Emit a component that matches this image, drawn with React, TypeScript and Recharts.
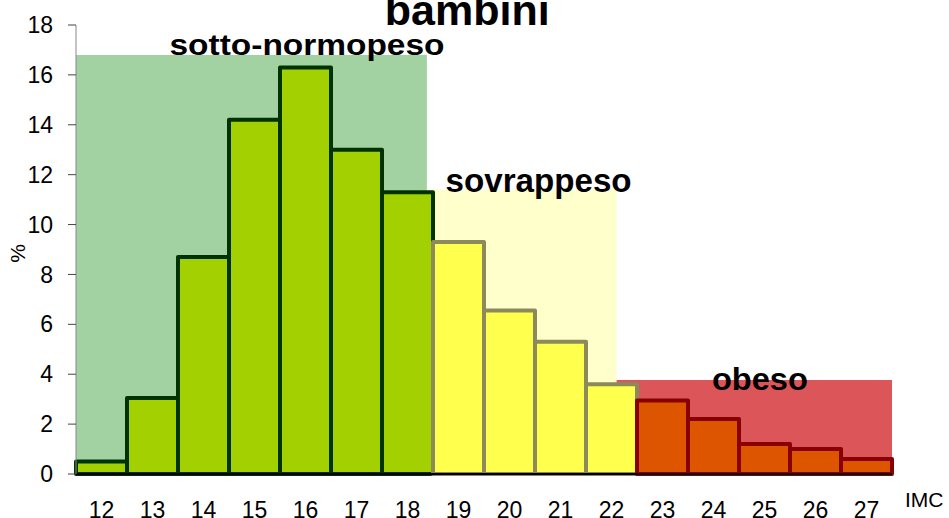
import React from 'react';
import {
  BarChart,
  Bar,
  XAxis,
  YAxis,
  Cell,
  ReferenceArea,
  ReferenceDot,
  Label,
} from 'recharts';

// IMC classes (x axis categories)
const categories = ['12', '13', '14', '15', '16', '17', '18', '19', '20', '21', '22', '23', '24', '25', '26', '27'];
// percentage of children in each IMC class
const percentValues = [0.5, 3.05, 8.7, 14.2, 16.3, 13.0, 11.3, 9.3, 6.55, 5.3, 3.6, 2.95, 2.2, 1.2, 1.0, 0.6];
// weight class of each IMC class
const weightClass = [
  'sotto', 'sotto', 'sotto', 'sotto', 'sotto', 'sotto', 'sotto',
  'sovrappeso', 'sovrappeso', 'sovrappeso', 'sovrappeso',
  'obeso', 'obeso', 'obeso', 'obeso', 'obeso',
];
const yTicks = [0, 2, 4, 6, 8, 10, 12, 14, 16, 18];
const boundaryTicks = [11.5, 12.5, 13.5, 14.5, 15.5, 16.5, 17.5, 18.5, 19.5, 20.5, 21.5, 22.5, 23.5, 24.5, 25.5, 26.5, 27.5];

// background zones
const zoneIds = ['sotto', 'sovrappeso', 'obeso'];
const zoneLabels = ['sotto-normopeso', 'sovrappeso', 'obeso'];
const zoneStart = [11.5, 18.38, 22.1];
const zoneEnd = [18.38, 22.1, 27.5];
const zoneTop = [16.8, 11.4, 3.77];

const title = 'bambini';
const xTitle = 'IMC';
const yTitle = '%';

const FONT = '"Liberation Sans", Arial, sans-serif';

const barStyle: Record<string, { fill: string; stroke: string }> = {
  sotto: { fill: '#a2d000', stroke: '#003300' },
  sovrappeso: { fill: '#ffff4d', stroke: '#8c8a5a' },
  obeso: { fill: '#de5500', stroke: '#880000' },
};
const zoneFill: Record<string, string> = {
  sotto: '#a2d2a2',
  sovrappeso: '#ffffcc',
  obeso: '#dc5558',
};

const data = categories.map((c, i) => ({
  imc: c,
  imcNum: Number(c),
  value: percentValues[i],
  cls: weightClass[i],
}));

const makeText = (text: string, fontSize: number, textLength: number) => (props: any) => {
  const vb = props.viewBox || {};
  const cx = (vb.x ?? 0) + (vb.width ?? 0) / 2;
  const cy = (vb.y ?? 0) + (vb.height ?? 0) / 2;
  return (
    <text
      x={cx}
      y={cy}
      textAnchor="middle"
      fontFamily={FONT}
      fontWeight="bold"
      fontSize={fontSize}
      fill="#000"
      textLength={textLength}
      lengthAdjust="spacingAndGlyphs"
    >
      {text}
    </text>
  );
};

export default function App() {
  return (
    <div style={{ position: 'absolute', left: 0, top: 0, background: '#fff' }}>
      <BarChart
        width={949}
        height={518}
        data={data}
        margin={{ top: 25, right: 57, left: 0, bottom: 0 }}
        barCategoryGap={0}
        barGap={0}
      >
        <XAxis
          xAxisId={0}
          dataKey="imcNum"
          type="number"
          domain={[11.5, 27.5]}
          ticks={boundaryTicks}
          tick={false}
          tickSize={8}
          height={8}
          axisLine={{ stroke: '#000', strokeWidth: 2 }}
          tickLine={{ stroke: '#777', strokeWidth: 1 }}
          allowDataOverflow
        />
        <XAxis
          xAxisId={1}
          dataKey="imc"
          type="category"
          height={36}
          axisLine={false}
          tickLine={false}
          tickSize={0}
          tickMargin={20}
          interval={0}
          tick={{ fontSize: 23, fontFamily: FONT, fill: '#000' }}
        >
          <Label
            value={xTitle}
            position="right"
            offset={13}
            style={{ fontSize: 21, fontFamily: FONT, fill: '#000' }}
          />
        </XAxis>
        <YAxis
          width={76}
          domain={[0, 18]}
          ticks={yTicks}
          interval={0}
          tickSize={8}
          tickMargin={15}
          axisLine={{ stroke: '#888', strokeWidth: 1 }}
          tickLine={{ stroke: '#444', strokeWidth: 1 }}
          tick={{ fontSize: 23, fontFamily: FONT, fill: '#000' }}
        >
          <Label
            value={yTitle}
            angle={-90}
            position="center"
            dx={-20}
            dy={4}
            style={{ fontSize: 21, fontFamily: FONT, fill: '#000', textAnchor: 'middle' }}
          />
        </YAxis>

        {zoneIds.map((z, i) => (
          <ReferenceArea
            key={z}
            xAxisId={0}
            x1={zoneStart[i]}
            x2={zoneEnd[i]}
            y1={0}
            y2={zoneTop[i]}
            fill={zoneFill[z]}
            fillOpacity={1}
            stroke="none"
            ifOverflow="visible"
          />
        ))}

        <Bar
          xAxisId={1}
          dataKey="value"
          isAnimationActive={false}
          strokeWidth={4}
          strokeLinejoin="round"
        >
          {data.map((d) => (
            <Cell key={d.imc} fill={barStyle[d.cls].fill} stroke={barStyle[d.cls].stroke} />
          ))}
        </Bar>

        <ReferenceDot
          xAxisId={0}
          x={16.03}
          y={16.8}
          r={0}
          stroke="none"
          ifOverflow="visible"
          label={makeText(zoneLabels[0], 29, 275)}
        />
        <ReferenceDot
          xAxisId={0}
          x={20.57}
          y={11.3}
          r={0}
          stroke="none"
          ifOverflow="visible"
          label={makeText(zoneLabels[1], 33, 186)}
        />
        <ReferenceDot
          xAxisId={0}
          x={24.91}
          y={3.37}
          r={0}
          stroke="none"
          ifOverflow="visible"
          label={makeText(zoneLabels[2], 31, 96)}
        />
        <ReferenceDot
          xAxisId={0}
          x={19.17}
          y={18}
          r={0}
          stroke="none"
          ifOverflow="visible"
          label={makeText(title, 42, 165)}
        />
      </BarChart>
    </div>
  );
}
